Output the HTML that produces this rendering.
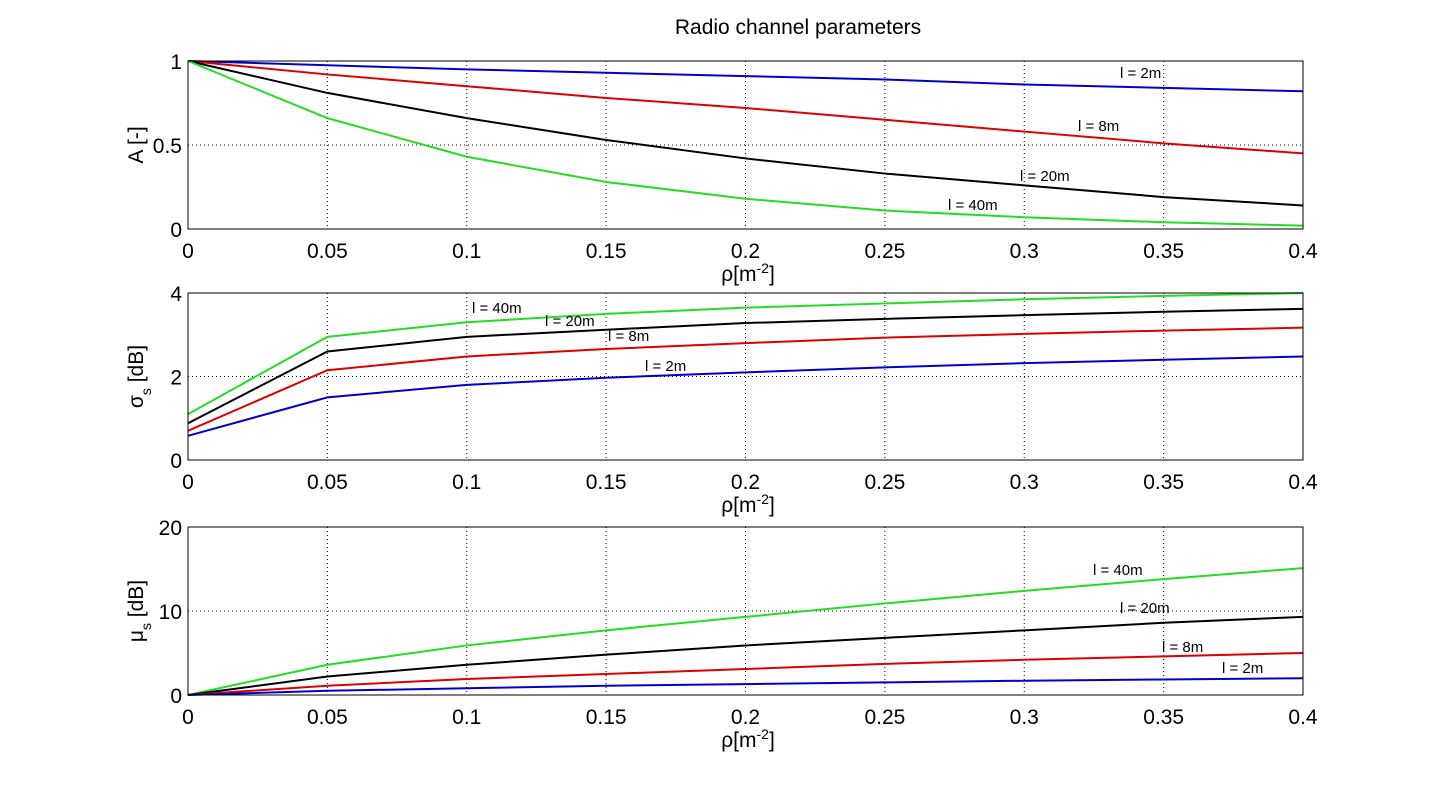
<!DOCTYPE html>
<html><head><meta charset="utf-8"><style>
html,body{margin:0;padding:0;background:#fff;}
svg text{font-family:"Liberation Sans",sans-serif;fill:#000;}
.t{font-size:21px;}
.l{font-size:15px;}
</style></head><body>
<svg width="1440" height="780" viewBox="0 0 1440 780" xmlns="http://www.w3.org/2000/svg">
<text x="798" y="34" text-anchor="middle" style="font-size:21px">Radio channel parameters</text>
<g id="plots"></g>
</svg>
<script>
const X0=188,X1=1303;
const xs=[0,.05,.1,.15,.2,.25,.3,.35,.4];
const g=document.getElementById('plots');
let h='';
function px(v){return X0+(X1-X0)*v/0.4;}
function plot(top,bot,ymax,yticks,series,ylab,labels){
  const py=v=>bot-(bot-top)*v/ymax;
  for(const t of xs.slice(1,-1)) h+=`<line x1="${px(t)}" y1="${top}" x2="${px(t)}" y2="${bot}" stroke="#000" stroke-dasharray="1,3" stroke-width="1"/>`;
  for(const t of yticks.slice(1,-1)) h+=`<line x1="${X0}" y1="${py(t)}" x2="${X1}" y2="${py(t)}" stroke="#000" stroke-dasharray="1,3" stroke-width="1"/>`;
  for(const s of series){
    const pts=s.d.map((v,i)=>px(xs[i])+','+py(v)).join(' ');
    h+=`<polyline points="${pts}" fill="none" stroke="${s.c}" stroke-width="2"/>`;
  }
  h+=`<rect x="${X0}" y="${top}" width="${X1-X0}" height="${bot-top}" fill="none" stroke="#000" stroke-width="1"/>`;
  for(const t of xs) h+=`<text class="t" x="${px(t)}" y="${bot+29}" text-anchor="middle">${t===0?'0':String(t)}</text>`;
  for(const t of yticks) h+=`<text class="t" x="${X0-6}" y="${py(t)+8}" text-anchor="end">${t}</text>`;
  h+=`<text class="t" x="748" y="${bot+52}" text-anchor="middle">ρ[m<tspan dy="-8" style="font-size:14px">-2</tspan><tspan dy="8">]</tspan></text>`;
  h+=`<g transform="translate(143,${(top+bot)/2}) rotate(-90)">${ylab}</g>`;
  for(const L of labels) h+=`<text class="l" x="${L[0]}" y="${L[1]}">${L[2]}</text>`;
}
plot(61,229,1,[0,0.5,1],[
 {c:'#0000cc',d:[1,.975,.95,.93,.91,.89,.86,.84,.82]},
 {c:'#dd0000',d:[1,.92,.85,.78,.72,.65,.58,.51,.45]},
 {c:'#000',d:[1,.81,.66,.53,.42,.33,.26,.19,.14]},
 {c:'#22dd22',d:[1,.66,.43,.28,.18,.11,.07,.04,.02]}],
 `<text class="t" x="0" y="0" text-anchor="middle">A [-]</text>`,
 [[1120,78,'l = 2m'],[1078,131,'l = 8m'],[1020,181,'l = 20m'],[948,210,'l = 40m']]);
plot(293,460,4,[0,2,4],[
 {c:'#22dd22',d:[1.1,2.95,3.3,3.5,3.65,3.75,3.85,3.93,4.0]},
 {c:'#000',d:[.88,2.6,2.95,3.12,3.28,3.38,3.47,3.55,3.62]},
 {c:'#dd0000',d:[.7,2.15,2.48,2.66,2.8,2.93,3.02,3.1,3.17]},
 {c:'#0000cc',d:[.58,1.5,1.8,1.97,2.1,2.22,2.32,2.4,2.48]}],
 `<text class="t" x="0" y="0" text-anchor="middle">σ<tspan dy="8" style="font-size:14px">s</tspan><tspan dy="-8"> [dB]</tspan></text>`,
 [[472,313,'l = 40m'],[545,326,'l = 20m'],[608,341,'l = 8m'],[645,371,'l = 2m']]);
plot(527,695,20,[0,10,20],[
 {c:'#22dd22',d:[0,3.6,5.9,7.7,9.3,10.9,12.4,13.8,15.1]},
 {c:'#000',d:[0,2.2,3.6,4.8,5.9,6.8,7.7,8.6,9.3]},
 {c:'#dd0000',d:[0,1.1,1.9,2.5,3.1,3.7,4.2,4.6,5.0]},
 {c:'#0000cc',d:[0,.5,.8,1.1,1.3,1.5,1.7,1.85,2.0]}],
 `<text class="t" x="0" y="0" text-anchor="middle">μ<tspan dy="8" style="font-size:14px">s</tspan><tspan dy="-8"> [dB]</tspan></text>`,
 [[1093,575,'l = 40m'],[1120,613,'l = 20m'],[1162,652,'l = 8m'],[1222,673,'l = 2m']]);
g.innerHTML=h;
</script>
</body></html>
